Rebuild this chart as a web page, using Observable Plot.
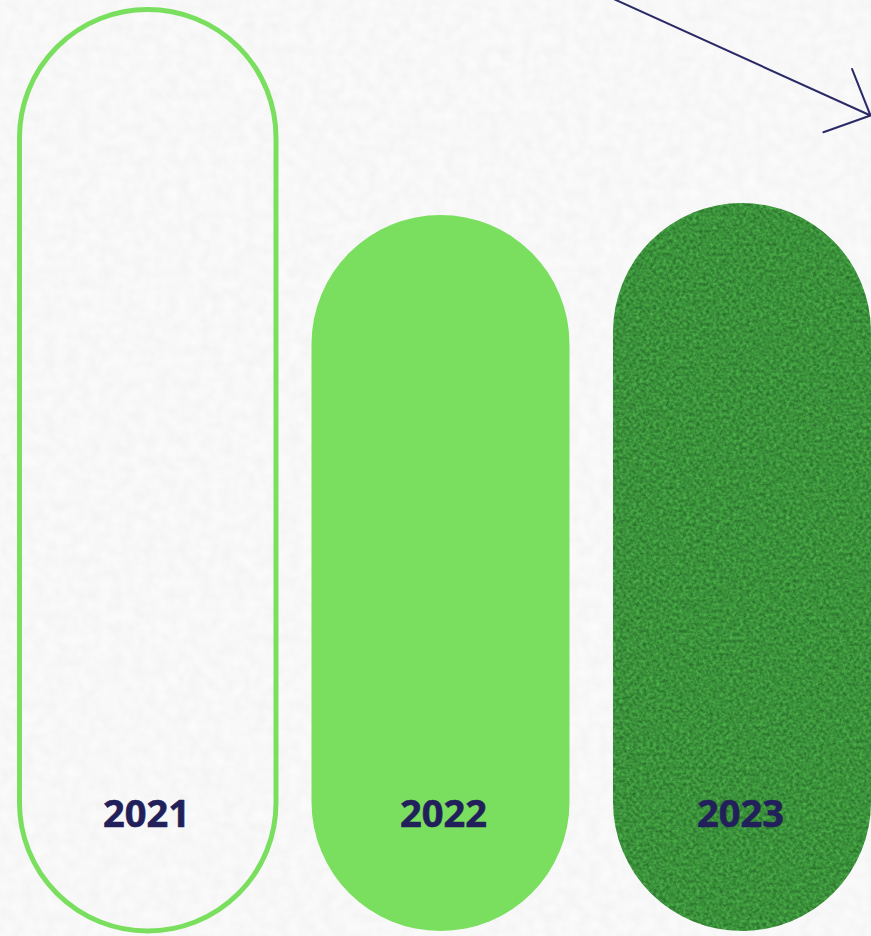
<!DOCTYPE html>
<html>
<head>
<meta charset="utf-8">
<script src="https://cdn.jsdelivr.net/npm/d3@7"></script>
<script src="https://cdn.jsdelivr.net/npm/@observablehq/plot@0.6"></script>
<style>
  html, body { margin: 0; padding: 0; background: #f8f8f8; overflow: hidden; }
  #chart svg { display: block; }
</style>
</head>
<body>
<div id="chart"></div>
<script>
// Data
const years = [2021, 2022, 2023];
const values = [100, 77.7, 79.0];
const labels = ["2021", "2022", "2023"];
// decorative trend arrow (in data units)
const arrowFrom = [2022.566, 101.2];
const arrowTo = [2023.431, 88.55];

const data = years.map((year, i) => ({year, value: values[i], label: labels[i]}));
const arrowData = [{x1: arrowFrom[0], y1: arrowFrom[1], x2: arrowTo[0], y2: arrowTo[1]}];

const navy = "#22205a";
const light = "#7adf5f";

const chart = Plot.plot({
  width: 871,
  height: 936,
  marginTop: 0, marginRight: 0, marginBottom: 0, marginLeft: 0,
  style: {background: "transparent", overflow: "hidden"},
  x: {domain: [2020.5, 2023.5], range: [-0.5, 890.5], axis: null},
  y: {domain: [0, 100], range: [931, 9.5], axis: null},
  marks: [
    Plot.frame({fill: "url(#paper)", stroke: "none"}),
    Plot.rectY(data, {
      filter: d => d.year === 2021,
      x1: d => d.year - 0.5, x2: d => d.year + 0.5, y1: 0, y2: "value",
      insetLeft: 20, insetRight: 20.5,
      rx: 128, ry: 128,
      fill: "none", stroke: light, strokeWidth: 5
    }),
    Plot.rectY(data, {
      filter: d => d.year === 2022,
      x1: d => d.year - 0.5, x2: d => d.year + 0.5, y1: 0, y2: "value",
      insetLeft: 15, insetRight: 24,
      rx: 129, ry: 129,
      fill: light
    }),
    Plot.rectY(data, {
      filter: d => d.year === 2023,
      x1: d => d.year - 0.5, x2: d => d.year + 0.5, y1: 0, y2: "value",
      insetLeft: 19.5, insetRight: 19.5,
      rx: 129, ry: 129,
      fill: "url(#grass)"
    }),
    Plot.text(data, {
      x: "year", y: 0, dy: -117, dx: -2,
      text: "label",
      fill: navy,
      fontFamily: "Open Sans",
      fontWeight: 700,
      fontSize: 38,
      textAnchor: "middle",
      lineAnchor: "middle",
      stroke: navy,
      strokeWidth: 0.6
    }),
    Plot.arrow(arrowData, {
      x1: "x1", y1: "y1", x2: "x2", y2: "y2",
      stroke: "#2b2a68", strokeWidth: 2,
      headLength: 37.5, headAngle: 88
    })
  ]
});

const ns = "http://www.w3.org/2000/svg";
const defs = document.createElementNS(ns, "defs");
defs.innerHTML = `
  <filter id="grassNoise" x="0" y="0" width="100%" height="100%" color-interpolation-filters="sRGB">
    <feTurbulence type="fractalNoise" baseFrequency="0.3" numOctaves="3" seed="7"/>
    <feColorMatrix type="matrix" values="0.22 0 0 0 0.12  0.4 0 0 0 0.37  0.18 0 0 0 0.14  0 0 0 0 1"/>
  </filter>
  <pattern id="grass" patternUnits="userSpaceOnUse" x="0" y="0" width="871" height="936">
    <rect width="871" height="936" fill="#3e8d34" filter="url(#grassNoise)"/>
  </pattern>
  <filter id="paperNoise" x="0" y="0" width="100%" height="100%" color-interpolation-filters="sRGB">
    <feTurbulence type="fractalNoise" baseFrequency="0.09" numOctaves="2" seed="3"/>
    <feColorMatrix type="matrix" values="0.04 0 0 0 0.95  0.04 0 0 0 0.95  0.04 0 0 0 0.95  0 0 0 0 1"/>
  </filter>
  <pattern id="paper" patternUnits="userSpaceOnUse" x="0" y="0" width="871" height="936">
    <rect width="871" height="936" fill="#f8f8f8" filter="url(#paperNoise)"/>
  </pattern>`;
chart.insertBefore(defs, chart.firstChild);
document.getElementById("chart").appendChild(chart);
</script>
</body>
</html>
